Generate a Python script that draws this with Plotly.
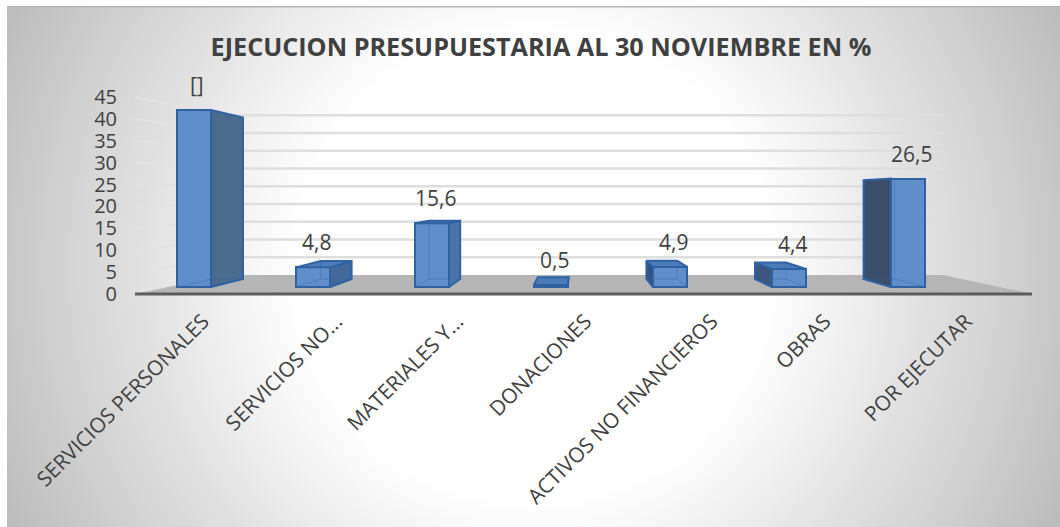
import base64
import plotly.graph_objects as go

# ---- data ----
categories = ["SERVICIOS PERSONALES", "SERVICIOS NO...", "MATERIALES Y...", "DONACIONES",
              "ACTIVOS NO FINANCIEROS", "OBRAS", "POR EJECUTAR"]
values = [43.3, 4.8, 15.6, 0.5, 4.9, 4.4, 26.5]
value_labels = ["[]", "4,8", "15,6", "0,5", "4,9", "4,4", "26,5"]
y_ticks = [0, 5, 10, 15, 20, 25, 30, 35, 40, 45]
title = "EJECUCION PRESUPUESTARIA AL 30 NOVIEMBRE EN %"

# ---- layout / style constants (pixels of the 1060x527 page) ----
W, H = 1060, 527
FONT = "Open Sans"
TXT = "#404040"
FRONT_L, FRONT_R, BACK_L, BACK_R = 135, 1032, 225, 943
FLOOR_FRONT_Y, FLOOR_BACK_Y = 294, 275
S_FRONT, S_BACK = 4.38, 3.55          # px per unit on front and back of the walls
BAR_X0, BAR_STEP = 194, 119           # bar centres
BAR_Y0, BAR_S = 287, 4.09             # bar front plane
BAR_BACK_DY, BAR_BACK_S = 8, 3.73     # bar back plane
BAR_HALF, BAR_BACK_HALF = 17, 15.5
SHIFT0, SHIFT_STEP = 33.5, -10.4      # sideways shift of a bar's back face
label_nudge_px = [4, 9, 2, 2, 0, -15, -2]
side_colors = ["#4a6b8e", "#44689a", "#4a74a8", None, "#33527f", "#3c567c", "#3a4e69"]
FACE, EDGE = "#5f8ec9", "#2f62a3"
TOP = "#4c7cb8"

# ---- background gradient ----
svg = f"""<svg xmlns='http://www.w3.org/2000/svg' width='{W-7}' height='{H-6}'>
<defs><radialGradient id='g' gradientUnits='userSpaceOnUse' cx='526' cy='260' r='590'>
<stop offset='0.40' stop-color='#ffffff'/><stop offset='1' stop-color='#bbbbbb'/></radialGradient></defs>
<rect width='{W-7}' height='{H-6}' fill='url(#g)'/><rect width='{W-7}' height='1.5' fill='#b5b5b5'/></svg>"""
bg = "data:image/svg+xml;base64," + base64.b64encode(svg.encode()).decode()


# coordinate helpers: wall plane (x, y), bar plane (x2, y2)
def wall_x(px):
    return (px - FRONT_L) / ((FRONT_R - FRONT_L) / 7) - 0.5


def wall_y(py):
    return (FLOOR_FRONT_Y - py) / S_FRONT


def bar_pt(i, v, side, back):
    """Project a bar corner: side -1/+1, back 0/1."""
    shift = (SHIFT0 + SHIFT_STEP * i) * back
    half = BAR_BACK_HALF if back else BAR_HALF
    x = i + (shift + side * half) / BAR_STEP
    y = (BAR_BACK_DY + BAR_BACK_S * v) / BAR_S if back else v
    return x, y


fig = go.Figure()

# floor
fig.add_trace(go.Scatter(
    x=[wall_x(FRONT_L), wall_x(BACK_L), wall_x(BACK_R), wall_x(FRONT_R)],
    y=[0, wall_y(FLOOR_BACK_Y), wall_y(FLOOR_BACK_Y), 0],
    fill="toself", fillcolor="#b5b5b5", mode="none", hoverinfo="skip", showlegend=False,
    xaxis="x", yaxis="y"))

# gridlines on the walls
gx, gy, lx, ly = [], [], [], []
for t in y_ticks[1:]:
    by = wall_y(FLOOR_BACK_Y - t * S_BACK)
    gx += [wall_x(BACK_L), wall_x(BACK_R), None]
    gy += [by, by, None]
    lx += [wall_x(FRONT_L), wall_x(BACK_L), None]
    ly += [t, by, None]
fig.add_trace(go.Scatter(x=gx, y=gy, mode="lines", line=dict(color="#dedede", width=2.5),
                         hoverinfo="skip", showlegend=False, xaxis="x", yaxis="y"))
fig.add_trace(go.Scatter(x=lx, y=ly, mode="lines", line=dict(color="rgba(226,226,226,0.7)", width=2.5),
                         hoverinfo="skip", showlegend=False, xaxis="x", yaxis="y"))

# front edge of the floor
fig.add_trace(go.Scatter(x=[-0.5, 6.5], y=[0, 0], mode="lines", line=dict(color="#5c5c5c", width=3),
                         hoverinfo="skip", showlegend=False, xaxis="x", yaxis="y"))

# bar fronts
idx = list(range(len(values)))
fig.add_trace(go.Bar(x=idx, y=values, width=2 * BAR_HALF / BAR_STEP, marker=dict(
    color=FACE, line=dict(color=EDGE, width=2)), cliponaxis=False,
    hoverinfo="skip", showlegend=False, xaxis="x2", yaxis="y2"))

# bar sides, tops, and edges seen through the front
for i, v in zip(idx, values):
    s = 1 if i < 3 else -1
    if side_colors[i]:
        pts = [bar_pt(i, 0, s, 0), bar_pt(i, 0, s, 1), bar_pt(i, v, s, 1), bar_pt(i, v, s, 0), bar_pt(i, 0, s, 0)]
        fig.add_trace(go.Scatter(x=[p[0] for p in pts], y=[p[1] for p in pts], fill="toself",
                                 fillcolor=side_colors[i], mode="lines", line=dict(color=EDGE, width=2),
                                 cliponaxis=False, hoverinfo="skip", showlegend=False, xaxis="x2", yaxis="y2"))
    if bar_pt(i, v, 1, 1)[1] > v:
        pts = [bar_pt(i, v, -1, 0), bar_pt(i, v, -1, 1), bar_pt(i, v, 1, 1), bar_pt(i, v, 1, 0), bar_pt(i, v, -1, 0)]
        fig.add_trace(go.Scatter(x=[p[0] for p in pts], y=[p[1] for p in pts], fill="toself",
                                 fillcolor=TOP, mode="lines", line=dict(color=EDGE, width=2),
                                 cliponaxis=False, hoverinfo="skip", showlegend=False, xaxis="x2", yaxis="y2"))
    if side_colors[i]:
        pts = [bar_pt(i, v, -s, 1), bar_pt(i, 0, -s, 1), bar_pt(i, 0, s, 1), None, bar_pt(i, 0, -s, 1), bar_pt(i, 0, -s, 0)]
        fig.add_trace(go.Scatter(x=[p[0] if p else None for p in pts], y=[p[1] if p else None for p in pts],
                                 mode="lines", line=dict(color="rgba(47,98,163,0.35)", width=1),
                                 cliponaxis=False, hoverinfo="skip", showlegend=False, xaxis="x2", yaxis="y2"))

annotations = [dict(x=i, y=v, xref="x2", yref="y2", text=t, showarrow=False, xshift=3, yshift=25,
                    yanchor="middle", xanchor="center", font=dict(family=FONT, size=21, color=TXT))
               for i, v, t in zip(idx, values, value_labels)]

label_ticks = [i + n / ((FRONT_R - FRONT_L) / 7) for i, n in zip(idx, label_nudge_px)]

fig.update_layout(
    width=W, height=H, margin=dict(l=0, r=0, t=0, b=0), autosize=False,
    paper_bgcolor="white", plot_bgcolor="rgba(0,0,0,0)", showlegend=False, bargap=0,
    title=dict(text=f"<b>{title}</b>", x=541 / W, y=1 - 47 / H, xanchor="center", yanchor="middle",
               font=dict(family=FONT, size=25.2, color=TXT)),
    images=[dict(source=bg, xref="paper", yref="paper", x=7 / W, y=1 - 6 / H, sizex=(W - 7) / W,
                 sizey=(H - 6) / H, sizing="stretch", xanchor="left", yanchor="top", layer="below")],
    xaxis=dict(domain=[FRONT_L / W, FRONT_R / W], range=[-0.5, 6.5], tickmode="array", tickvals=label_ticks,
               ticktext=categories, tickangle=-45, ticks="outside", ticklen=4, tickcolor="rgba(0,0,0,0)",
               showgrid=False, zeroline=False, showline=False, automargin=False,
               tickfont=dict(family=FONT, size=20.8, color=TXT), anchor="y"),
    yaxis=dict(domain=[1 - 296 / H, 1 - 85 / H], range=[wall_y(296), wall_y(85)], tickmode="array",
               tickvals=y_ticks, ticks="outside", ticklen=13, tickcolor="rgba(0,0,0,0)",
               showgrid=False, zeroline=False, showline=False, automargin=False,
               tickfont=dict(family=FONT, size=20, color=TXT), anchor="x"),
    xaxis2=dict(domain=[0, 1], range=[-BAR_X0 / BAR_STEP, (W - BAR_X0) / BAR_STEP], visible=False, anchor="y2"),
    yaxis2=dict(domain=[1 - 300 / H, 1 - 60 / H], range=[-13 / BAR_S, (BAR_Y0 - 60) / BAR_S], visible=False, anchor="x2"),
    annotations=annotations,
)

fig.write_html("out.html", post_script="document.body.style.margin='0';", config=dict(displayModeBar=False))
